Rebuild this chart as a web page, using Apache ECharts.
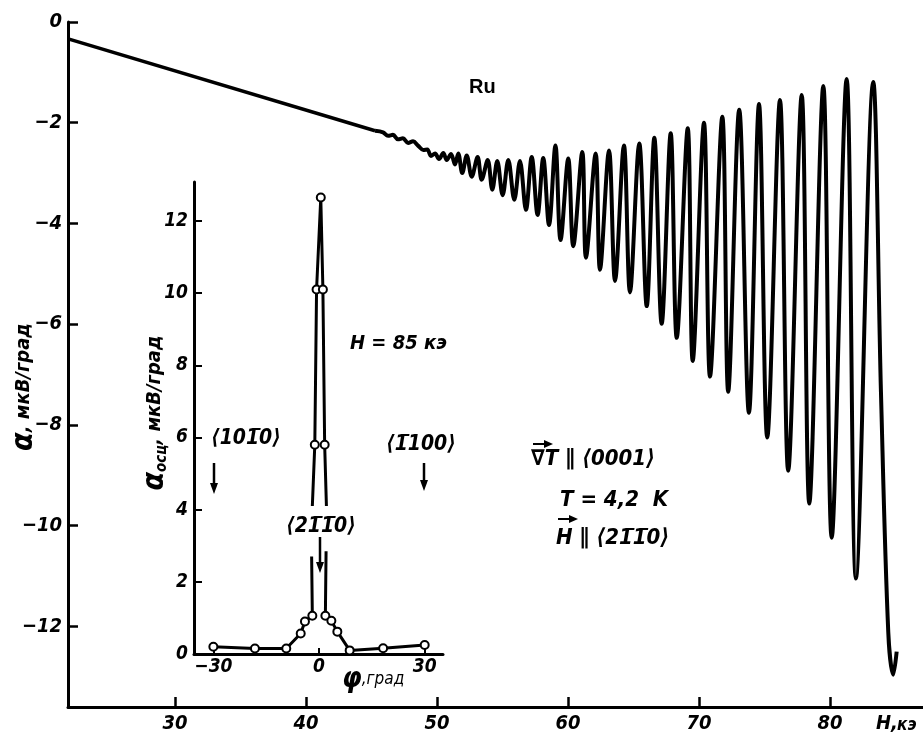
<!DOCTYPE html>
<html>
<head>
<meta charset="utf-8">
<script src="https://cdn.jsdelivr.net/npm/echarts@6/dist/echarts.min.js"></script>
<style>
  html, body { margin: 0; padding: 0; background: #fff; }
  #chart { width: 923px; height: 735px; }
</style>
</head>
<body>
<div id="chart"></div>
<script>
// main record: alpha (мкВ/град) vs H (кэ), turning points
const fieldH = [21.91, 45.27, 45.88, 46.26, 46.64, 47.02, 47.40, 47.79, 48.17,
  48.57, 48.95, 49.26, 49.54, 49.85, 50.15, 50.48, 50.74, 51.07, 51.37,
  51.62, 51.93, 52.27, 52.65, 53.10, 53.41, 53.87, 54.22, 54.60, 55.01,
  55.44, 55.90, 56.33, 56.79, 57.23, 57.68, 58.11, 58.55, 59.04, 59.43,
  60.02, 60.40, 61.09, 61.37, 62.11, 62.44, 63.13, 63.59, 64.27, 64.73,
  65.44, 66.01, 66.59, 67.15, 67.84, 68.30, 69.14, 69.52, 70.38, 70.84,
  71.78, 72.23, 73.07, 73.81, 74.58, 75.21, 76.18, 76.81, 77.84, 78.42,
  79.49, 80.13, 81.27, 81.98, 83.30, 83.89, 84.45, 84.83, 85.09];
const alphaMain = [-0.34, -2.16, -2.19, -2.26, -2.24, -2.33, -2.31, -2.40, -2.37,
  -2.46, -2.54, -2.53, -2.66, -2.61, -2.72, -2.60, -2.74, -2.62, -2.83,
  -2.61, -3.00, -2.65, -3.07, -2.68, -3.13, -2.74, -3.33, -2.76, -3.44,
  -2.74, -3.53, -2.76, -3.73, -2.68, -3.83, -2.70, -4.03, -2.45, -4.33,
  -2.71, -4.45, -2.58, -4.68, -2.61, -4.92, -2.55, -5.14, -2.45, -5.37,
  -2.41, -5.64, -2.30, -5.99, -2.21, -6.27, -2.11, -6.73, -2.00, -7.04,
  -1.88, -7.34, -1.74, -7.76, -1.63, -8.25, -1.55, -8.91, -1.45, -9.56,
  -1.27, -10.24, -1.13, -11.05, -1.19, -7.34, -12.12, -12.96, -12.50];
// the record is a straight line up to this point, oscillations after it
const trendPoints = 2;

// inset: oscillation amplitude vs angle at H = 85 кэ (null = break in the curve)
const insetPhi = [-30, -18.2, -9.3, -5.2, -4.0, -1.9, -2.1, null, -1.9, -1.2, -0.7, 0.5, 1.1, 1.6, 2.1, null, 2.0, 1.8, 3.5, 5.2, 8.7, 18.2, 30];
const insetAlpha = [0.2, 0.15, 0.15, 0.57, 0.9, 1.06, 2.7, null, 4.1, 5.8, 10.1, 12.65, 10.1, 5.8, 4.1, null, 2.85, 1.06, 0.92, 0.62, 0.1, 0.16, 0.25];
const insetMeasured = [1, 1, 1, 1, 1, 1, 0, 0, 0, 1, 1, 1, 1, 1, 0, 0, 0, 1, 1, 1, 1, 1, 1];

const xTicks = [30, 40, 50, 60, 70, 80];
const yTicks = [0, -2, -4, -6, -8, -10, -12];
const insetXTicks = [-30, 0, 30];
const insetYTicks = [0, 2, 4, 6, 8, 10, 12];

const FONT = "'Liberation Sans Narrow', 'DejaVu Sans Condensed', 'Liberation Sans', sans-serif";
const minus = (v) => String(v).replace("-", "\u2212");

const chart = echarts.init(document.getElementById("chart"));

const tickLabel = (size) => ({
  fontFamily: FONT, fontStyle: "italic", fontWeight: "bold", fontSize: size, color: "#000",
});

function txt(x, y, text, size, opts) {
  return Object.assign({
    type: "text", x: x, y: y, z: 10,
    style: Object.assign({
      text: text, fontFamily: FONT, fontStyle: "italic", fontWeight: "bold",
      fontSize: size, fill: "#000", align: "left", verticalAlign: "middle",
    }, (opts && opts.style) || {}),
  }, (opts && opts.el) || {});
}

function downArrow(x, y1, y2) {
  return {
    type: "group", z: 10,
    children: [
      { type: "line", shape: { x1: x, y1: y1, x2: x, y2: y2 - 6 }, style: { stroke: "#000", lineWidth: 2.5 } },
      { type: "polygon", shape: { points: [[x - 4, y2 - 11], [x + 4, y2 - 11], [x, y2]] }, style: { fill: "#000" } },
    ],
  };
}

function vecArrow(x, y, w) {
  return {
    type: "group", z: 10,
    children: [
      { type: "line", shape: { x1: x, y1: y, x2: x + w - 6, y2: y }, style: { stroke: "#000", lineWidth: 2 } },
      { type: "polygon", shape: { points: [[x + w - 9, y - 4], [x + w - 9, y + 4], [x + w, y]] }, style: { fill: "#000" } },
    ],
  };
}

const mainData = fieldH.map((h, i) => [h, alphaMain[i]]);
const insetData = insetPhi.map((p, i) =>
  insetAlpha[i] === null
    ? { value: [p, "-"], symbol: "none" }
    : { value: [p, insetAlpha[i]], symbol: insetMeasured[i] ? "circle" : "none" }
);

const option = {
  animation: false,
  backgroundColor: "#fff",
  grid: [
    { left: 68, top: 22, right: 0, bottom: 28 },
    { left: 194, top: 182, width: 249, bottom: 81 },
  ],
  xAxis: [
    {
      gridIndex: 0, type: "value", min: 21.83, max: 87.1,
      axisLine: { show: true, onZero: false, lineStyle: { color: "#000", width: 3 } },
      axisTick: { show: true, inside: true, length: 10, customValues: xTicks, lineStyle: { color: "#000", width: 2.5 } },
      axisLabel: Object.assign({ customValues: xTicks, margin: 7 }, tickLabel(20)),
      splitLine: { show: false },
    },
    {
      gridIndex: 1, type: "value", min: -35.5, max: 35.2,
      axisLine: { show: true, onZero: false, lineStyle: { color: "#000", width: 3 } },
      axisTick: { show: true, inside: true, length: 6, customValues: insetXTicks, lineStyle: { color: "#000", width: 2 } },
      axisLabel: Object.assign({ customValues: insetXTicks, margin: 4, formatter: minus }, tickLabel(19)),
      splitLine: { show: false },
    },
  ],
  yAxis: [
    {
      gridIndex: 0, type: "value", min: -13.6, max: 0,
      axisLine: { show: true, onZero: false, lineStyle: { color: "#000", width: 3 } },
      axisTick: { show: true, inside: true, length: 10, customValues: yTicks, lineStyle: { color: "#000", width: 2.5 } },
      axisLabel: Object.assign({ customValues: yTicks, margin: 6, formatter: minus }, tickLabel(20)),
      splitLine: { show: false },
    },
    {
      gridIndex: 1, type: "value", min: 0, max: 13.08,
      axisLine: { show: true, onZero: false, lineStyle: { color: "#000", width: 3 } },
      axisTick: { show: true, inside: true, length: 8, customValues: insetYTicks, lineStyle: { color: "#000", width: 2 } },
      axisLabel: Object.assign({ customValues: insetYTicks, margin: 6 }, tickLabel(19)),
      splitLine: { show: false },
    },
  ],
  series: [
    {
      type: "line", xAxisIndex: 0, yAxisIndex: 0,
      data: mainData.slice(0, trendPoints),
      symbol: "none", lineStyle: { color: "#000", width: 3.5 },
    },
    {
      type: "line", xAxisIndex: 0, yAxisIndex: 0,
      data: mainData.slice(trendPoints - 1), smooth: 0.35,
      symbol: "none", lineStyle: { color: "#000", width: 4 },
    },
    {
      type: "line", xAxisIndex: 1, yAxisIndex: 1,
      data: insetData, connectNulls: false,
      symbol: "circle", symbolSize: 8,
      itemStyle: { color: "#fff", borderColor: "#000", borderWidth: 2 },
      lineStyle: { color: "#000", width: 3 },
      z: 5,
    },
  ],
  graphic: [
    txt(469, 87, "Ru", 20, { style: { fontStyle: "normal", fontFamily: "'Liberation Sans', sans-serif" } }),
    // main axis names
    txt(24, 387, "{a|\u03b1}{n|, мкВ/град}", 20, {
      el: { rotation: Math.PI / 2 },
      style: {
        align: "center",
        rich: {
          a: { fontSize: 30, fontWeight: "bold", fontStyle: "italic", fontFamily: FONT },
          n: { fontSize: 20, fontWeight: "bold", fontStyle: "italic", fontFamily: FONT },
        },
      },
    }),
    txt(876, 724, "H,", 20),
    txt(897, 726, "кэ", 17),
    // inset axis names
    txt(155, 413, "{a|\u03b1}{s|осц}{n|, мкВ/град}", 20, {
      el: { rotation: Math.PI / 2 },
      style: {
        align: "center",
        rich: {
          a: { fontSize: 30, fontWeight: "bold", fontStyle: "italic", fontFamily: FONT },
          s: { fontSize: 15, fontWeight: "bold", fontStyle: "italic", fontFamily: FONT, verticalAlign: "bottom", padding: [8, 0, 0, 0] },
          n: { fontSize: 20, fontWeight: "bold", fontStyle: "italic", fontFamily: FONT },
        },
      },
    }),
    txt(342, 680, "{a|\u03c6}{n|,град}", 20, {
      style: {
        rich: {
          a: { fontSize: 28, fontWeight: "bold", fontStyle: "italic", fontFamily: FONT },
          n: { fontSize: 17, fontStyle: "italic", fontFamily: FONT },
        },
      },
    }),
    // inset annotations
    txt(350, 344, "H = 85 кэ", 20),
    txt(211, 439, "\u27e8101\u03040\u27e9", 21),
    downArrow(214, 463, 494),
    txt(386, 445, "\u27e81\u0304100\u27e9", 21),
    downArrow(424, 463, 491),
    txt(286, 527, "\u27e821\u03041\u03040\u27e9", 21),
    downArrow(320, 537, 573),
    // conditions
    txt(531, 459, "\u2207T \u2225 \u27e80001\u27e9", 22),
    vecArrow(533, 444, 20),
    txt(560, 500, "T = 4,2  K", 22),
    txt(556, 538, "H \u2225 \u27e821\u03041\u03040\u27e9", 22),
    vecArrow(558, 519, 20),
  ],
};

chart.setOption(option);
</script>
</body>
</html>
